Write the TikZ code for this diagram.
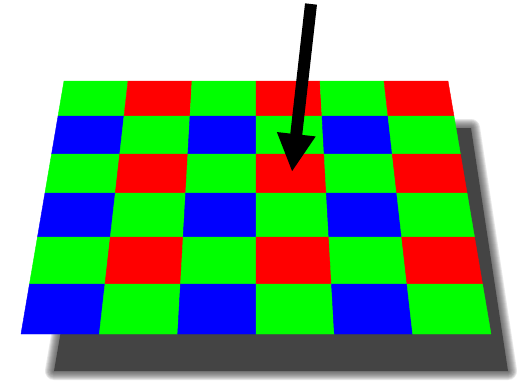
\documentclass[tikz,border=0pt]{standalone}
\usetikzlibrary{calc,arrows.meta}
\definecolor{cell0}{HTML}{00FF00}
\definecolor{cell1}{HTML}{FF0000}
\definecolor{cell2}{HTML}{0000FF}
\definecolor{cell3}{HTML}{00FF00}
\definecolor{shadowgray}{HTML}{444444}
\tikzset{
  shadowblur/.style={draw=shadowgray, line join=round, opacity=0.13},
  arrowline/.style={line width=12pt, -{Triangle[length=38pt,width=36pt]}}
}
\begin{document}
\begin{tikzpicture}[x=1pt,y=-1pt]
\fill[white] (0,0) rectangle (525,383);
\useasboundingbox (0,0) rectangle (525,383);
% shadow
\coordinate (s1) at (96,128);
\coordinate (s2) at (471,128);
\coordinate (s3) at (508,371);
\coordinate (s4) at (54,371);
\foreach \w in {18,16,14,12,10,8,6,4,2}{
  \draw[shadowblur, line width=\w pt] (s1) -- (s2) -- (s3) -- (s4) -- cycle;
}
\fill[shadowgray] (s1) -- (s2) -- (s3) -- (s4) -- cycle;
% row boundary end points
\foreach \j/\y in {0/81,1/116,2/154,3/193,4/237,5/284,6/334}{
  \pgfmathsetmacro\xl{64-43*(\y-81)/253}
  \pgfmathsetmacro\xr{448+43*(\y-81)/253}
  \coordinate (L\j) at (\xl,\y);
  \coordinate (R\j) at (\xr,\y);
}
% cells
\foreach \r in {0,...,5}{
  \foreach \c in {0,...,5}{
    \pgfmathtruncatemacro\nr{\r+1}
    \pgfmathtruncatemacro\nc{\c+1}
    \pgfmathtruncatemacro\p{mod(\r,2)*2+mod(\c,2)}
    \filldraw[fill=cell\p, draw=cell\p, line width=0.4pt, line join=round]
      ($(L\r)!\c/6!(R\r)$) -- ($(L\r)!\nc/6!(R\r)$) --
      ($(L\nr)!\nc/6!(R\nr)$) -- ($(L\nr)!\c/6!(R\nr)$) -- cycle;
  }
}
% arrow
\coordinate (arrowtail) at (311,4);
\coordinate (arrowtip) at (292,172);
\draw[arrowline] (arrowtail) -- (arrowtip);
\end{tikzpicture}
\end{document}
